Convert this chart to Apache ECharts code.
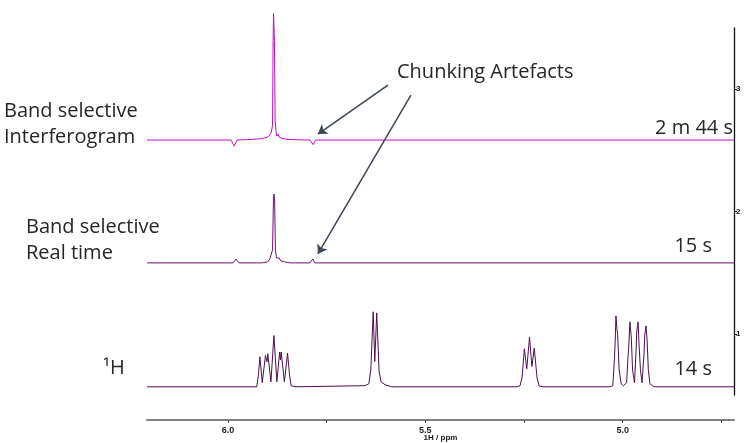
<!DOCTYPE html>
<html>
<head>
<meta charset="utf-8">
<script src="https://cdn.jsdelivr.net/npm/echarts@6/dist/echarts.min.js"></script>
<style>
html,body{margin:0;padding:0;background:#fff;}
#chart{width:744px;height:443px;}
</style>
</head>
<body>
<div id="chart"></div>
<script>
// x axis: chemical shift (ppm), y axis: stacked intensity
var xTicks = [6.0, 5.75, 5.5, 5.25, 5.0, 4.75];
var xLabels = [6.0, 5.5, 5.0];
var yTicks = [1, 2, 3];

// Band selective Interferogram (2 m 44 s)
var interferogram = [
  [6.205, 2.584], [5.992, 2.584], [5.984, 2.535], [5.977, 2.584], [5.944, 2.588],
  [5.914, 2.596], [5.899, 2.608], [5.894, 2.625], [5.890, 2.649], [5.887, 2.706],
  [5.8855, 3.400], [5.8845, 3.620], [5.8835, 3.625], [5.8822, 3.400], [5.8804, 2.747],
  [5.878, 2.649], [5.876, 2.616], [5.873, 2.633], [5.870, 2.608], [5.863, 2.596],
  [5.843, 2.588], [5.792, 2.584], [5.784, 2.547], [5.778, 2.584], [4.718, 2.584]
];

// Band selective Real time (15 s)
var realTime = [
  [6.205, 1.580], [5.987, 1.580], [5.980, 1.612], [5.972, 1.580], [5.914, 1.580],
  [5.899, 1.588], [5.894, 1.612], [5.890, 1.620], [5.887, 1.686], [5.8847, 2.094],
  [5.8835, 2.143], [5.8817, 2.094], [5.8797, 1.686], [5.877, 1.620], [5.873, 1.604],
  [5.870, 1.620], [5.866, 1.596], [5.856, 1.588], [5.843, 1.580], [5.792, 1.580],
  [5.785, 1.612], [5.780, 1.580], [4.718, 1.580]
];

// 1H (14 s)
var protonSpectrum = [
  [6.205, 0.567], [5.927, 0.567], [5.9227, 0.665], [5.919, 0.812], [5.913, 0.600],
  [5.905, 0.823], [5.901, 0.771], [5.899, 0.837], [5.891, 0.608], [5.8835, 0.986],
  [5.876, 0.608], [5.869, 0.851], [5.867, 0.788], [5.865, 0.851], [5.857, 0.608],
  [5.849, 0.842], [5.844, 0.665], [5.840, 0.576], [5.830, 0.567], [5.653, 0.576],
  [5.643, 0.592], [5.638, 0.706], [5.632, 1.180], [5.628, 0.774], [5.623, 1.171],
  [5.617, 0.690], [5.612, 0.608], [5.602, 0.584], [5.585, 0.567], [5.268, 0.567],
  [5.260, 0.576], [5.255, 0.641], [5.249, 0.878], [5.243, 0.714], [5.236, 0.973],
  [5.230, 0.733], [5.224, 0.883], [5.217, 0.641], [5.212, 0.576], [5.202, 0.567],
  [5.032, 0.567], [5.025, 0.576], [5.021, 0.788], [5.019, 0.935], [5.017, 1.147],
  [5.0144, 1.033], [5.0127, 0.992], [5.009, 0.706], [5.004, 0.592], [4.998, 0.576],
  [4.990, 0.600], [4.987, 0.788], [4.985, 0.878], [4.9815, 1.098], [4.978, 0.959],
  [4.975, 0.706], [4.970, 0.600], [4.966, 0.869], [4.9645, 1.016], [4.961, 1.098],
  [4.959, 0.943], [4.955, 0.706], [4.951, 0.600], [4.946, 0.829], [4.944, 0.992],
  [4.941, 1.065], [4.938, 0.943], [4.935, 0.706], [4.931, 0.592], [4.921, 0.567],
  [4.718, 0.567]
];

// annotation arrows: [start, end] in data units
var arrowTop = [[5.5946, 3.033], [5.772, 2.633]];
var arrowMid = [[5.5364, 2.951], [5.772, 1.653]];

var textFont = '20px "Open Sans", sans-serif';
var textColor = '#262626';

var chart = echarts.init(document.getElementById('chart'), null, {renderer: 'canvas'});
chart.setOption({
  animation: false,
  backgroundColor: '#fff',
  grid: {left: 147, right: 10, top: 28, bottom: 48, outerBoundsMode: 'none', containLabel: false},
  xAxis: {
    type: 'value', inverse: true, min: 4.718, max: 6.205,
    position: 'bottom', offset: 25,
    splitLine: {show: false},
    axisLine: {show: true, lineStyle: {color: '#808080', width: 2}},
    axisTick: {show: true, customValues: xTicks, length: 3, lineStyle: {color: '#404040', width: 1}},
    axisLabel: {
      customValues: xLabels, formatter: function (v) { return v.toFixed(1); },
      fontSize: 9, fontWeight: 'bold', fontFamily: '"Liberation Sans", Arial, sans-serif',
      color: '#222', margin: 6
    },
    name: '1H / ppm', nameLocation: 'middle', nameGap: 14, nameMoveOverlap: false,
    nameTextStyle: {fontSize: 8, fontWeight: 'bold', fontFamily: '"Liberation Sans", Arial, sans-serif', color: '#222', verticalAlign: 'top'}
  },
  yAxis: {
    type: 'value', position: 'right', min: 0.5, max: 3.5,
    splitLine: {show: false},
    axisLine: {show: true, lineStyle: {color: '#111', width: 1.3}},
    axisTick: {show: true, customValues: yTicks, length: 3, lineStyle: {color: '#111', width: 1}},
    axisLabel: {customValues: yTicks, fontSize: 8, fontWeight: 'bold', fontFamily: '"Liberation Sans", Arial, sans-serif', color: '#111', margin: 2}
  },
  series: [
    {
      name: '1H', type: 'line', data: protonSpectrum, showSymbol: false, clip: false,
      lineStyle: {color: '#4e0f4e', width: 1}, silent: true
    },
    {
      name: 'Band selective Real time', type: 'line', data: realTime, showSymbol: false, clip: false,
      lineStyle: {color: '#720f72', width: 1}, silent: true
    },
    {
      name: 'Band selective Interferogram', type: 'line', data: interferogram, showSymbol: false, clip: false,
      lineStyle: {color: '#c010c0', width: 1}, silent: true,
      markLine: {
        silent: true, symbol: ['none', 'arrow'], symbolSize: 9,
        label: {show: false},
        lineStyle: {type: 'solid', color: '#3c4654', width: 1.5},
        data: [
          [{coord: arrowTop[0]}, {coord: arrowTop[1]}],
          [{coord: arrowMid[0]}, {coord: arrowMid[1]}]
        ]
      }
    }
  ],
  graphic: [
    {type: 'text', x: 4, y: 111, style: {text: 'Band selective', font: textFont, fill: textColor, align: 'left', verticalAlign: 'middle'}},
    {type: 'text', x: 4, y: 137, style: {text: 'Interferogram', font: textFont, fill: textColor, align: 'left', verticalAlign: 'middle'}},
    {type: 'text', x: 26, y: 227, style: {text: 'Band selective', font: textFont, fill: textColor, align: 'left', verticalAlign: 'middle'}},
    {type: 'text', x: 26, y: 253, style: {text: 'Real time', font: textFont, fill: textColor, align: 'left', verticalAlign: 'middle'}},
    {type: 'text', x: 103, y: 368, style: {text: '¹H', font: textFont, fill: textColor, align: 'left', verticalAlign: 'middle'}},
    {type: 'text', x: 397, y: 72, style: {text: 'Chunking Artefacts', font: textFont, fill: textColor, align: 'left', verticalAlign: 'middle'}},
    {type: 'text', x: 733, y: 128, style: {text: '2 m 44 s', font: textFont, fill: textColor, align: 'right', verticalAlign: 'middle'}},
    {type: 'text', x: 712, y: 246, style: {text: '15 s', font: textFont, fill: textColor, align: 'right', verticalAlign: 'middle'}},
    {type: 'text', x: 712, y: 369, style: {text: '14 s', font: textFont, fill: textColor, align: 'right', verticalAlign: 'middle'}}
  ]
});
</script>
</body>
</html>
